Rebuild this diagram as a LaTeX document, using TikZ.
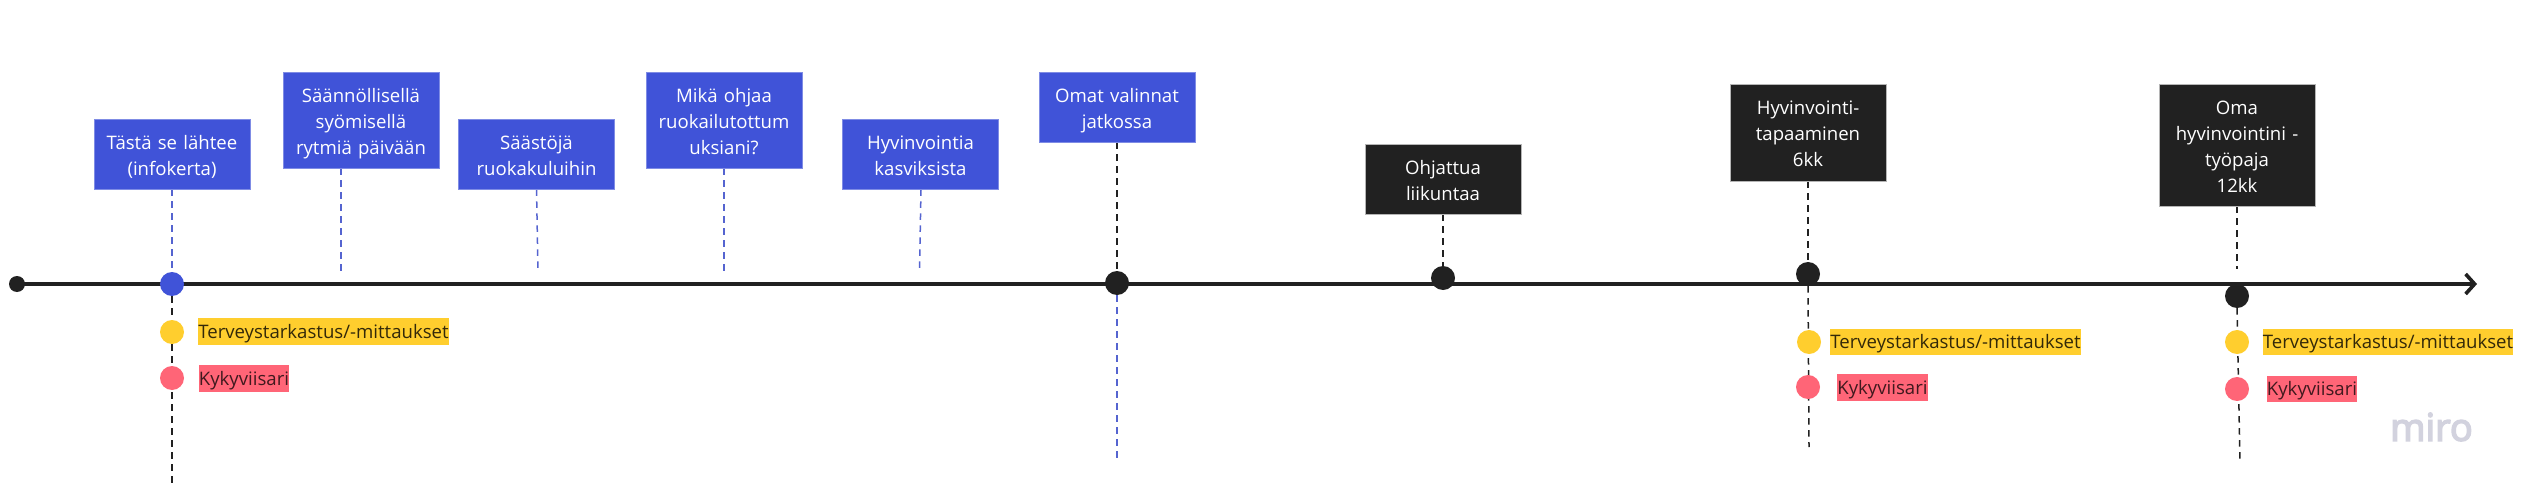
\documentclass[tikz,border=0pt]{standalone}
\usepackage{fontspec}
\setmainfont{Open Sans}
\newfontfamily\mirofont[FakeBold=4]{Open Sans}
\usetikzlibrary{arrows.meta,backgrounds}
\definecolor{mblue}{HTML}{4053D8}
\definecolor{mblueedge}{HTML}{7F8CE5}
\definecolor{mdash}{HTML}{5564D0}
\definecolor{mblack}{HTML}{212121}
\definecolor{mblackedge}{HTML}{B5B5B5}
\definecolor{myellow}{HTML}{FFCE2E}
\definecolor{mred}{HTML}{FF6577}
\definecolor{mirogrey}{HTML}{D2D2DE}
\tikzset{
  card/.style={rectangle,inner sep=0pt,text width=156pt,align=center,text=white,
    font=\fontsize{18.6}{26}\selectfont,
    execute at begin node={\leavevmode\rule{0pt}{21pt}},execute at end node={\rule[-4.4pt]{0pt}{0pt}}},
  bluecard/.style={card,fill=mblue,draw=mblueedge,line width=0.8pt},
  blackcard/.style={card,fill=mblack,draw=mblackedge,line width=0.8pt},
  dot/.style={circle,inner sep=0pt,minimum size=24pt},
  tag/.style={rectangle,inner sep=0pt,minimum height=26.5pt,
    font=\fontsize{18.6}{26}\selectfont,
    execute at begin node={\rule{0pt}{18.4pt}},execute at end node={\rule[-4.8pt]{0pt}{0pt}}},
  yellowtag/.style={tag,fill=myellow,text=black!80!myellow,minimum width=247.5pt},
  redtag/.style={tag,fill=mred,text=black!75!mred,minimum width=88.5pt},
  dashblue/.style={draw=mdash,line width=1.5pt,dash pattern=on 6.5pt off 5.5pt},
  dashblack/.style={draw=mblack,line width=1.5pt,dash pattern=on 6.5pt off 5.5pt},
  axisline/.style={draw=mblack,line width=3.6pt,-{Straight Barb[length=9pt,width=20pt,line width=3.6pt]}}
}
\begin{document}
\begin{tikzpicture}[x=1pt,y=-1pt]
\useasboundingbox (0,0) rectangle (2530,500);
% cards
\node[bluecard,minimum height=70pt] (c1) at (172,154) {Tästä se lähtee\\(infokerta)};
\node[bluecard,minimum height=96pt] (c2) at (361,120) {Säännöllisellä\\syömisellä\\rytmiä päivään};
\node[bluecard,minimum height=70pt] (c3) at (536.5,154) {Säästöjä\\ruokakuluihin};
\node[bluecard,minimum height=96pt] (c4) at (724,120) {Mikä ohjaa\\ruokailutottum\\uksiani?};
\node[bluecard,minimum height=70pt] (c5) at (920.5,154) {Hyvinvointia\\kasviksista};
\node[bluecard,minimum height=70pt] (c6) at (1117,107) {Omat valinnat\\jatkossa};
\node[blackcard,minimum height=70pt] (c7) at (1443,179) {Ohjattua\\liikuntaa};
\node[blackcard,minimum height=97pt] (c8) at (1808,132.5) {Hyvinvointi-\\tapaaminen\\6kk};
\node[blackcard,minimum height=122pt] (c9) at (2237,145) {Oma\\hyvinvointini -\\työpaja\\12kk};
% axis ends and dots
\node[circle,fill=mblack,inner sep=0pt,minimum size=16pt] (start) at (17,284) {};
\coordinate (axisend) at (2477,284);
\node[dot,fill=mblue] (d1) at (172,284) {};
\node[dot,fill=mblack] (d6) at (1117,283) {};
\node[dot,fill=mblack] (d7) at (1443,278) {};
\node[dot,fill=mblack] (d8) at (1808,274) {};
\node[dot,fill=mblack] (d9) at (2237,296) {};
\node[dot,fill=myellow] (y1) at (172,332) {};
\node[dot,fill=mred] (r1) at (172,378) {};
\node[dot,fill=myellow] (y8) at (1809,342) {};
\node[dot,fill=mred] (r8) at (1808,387) {};
\node[dot,fill=myellow] (y9) at (2237,342) {};
\node[dot,fill=mred] (r9) at (2237,389) {};
% tags
\node[yellowtag] (t1) at (323.5,331.5) {Terveystarkastus/-mittaukset};
\node[redtag] (k1) at (244,378.5) {Kykyviisari};
\node[yellowtag] (t8) at (1955.5,342) {Terveystarkastus/-mittaukset};
\node[redtag] (k8) at (1882.5,387.5) {Kykyviisari};
\node[yellowtag] (t9) at (2388,342) {Terveystarkastus/-mittaukset};
\node[redtag] (k9) at (2312,389) {Kykyviisari};
\node[text=mirogrey,inner sep=0pt,font=\fontsize{38}{38}\mirofont] (miro) at (2431.5,427) {miro};
% free ends of dashed lines
\coordinate (e2) at (341,273);
\coordinate (e2t) at (341,168);
\coordinate (e3) at (538,270);
\coordinate (e3t) at (536.5,189);
\coordinate (e4) at (724,273);
\coordinate (e5) at (919.5,270);
\coordinate (e5t) at (921,189);
\coordinate (b1) at (172,485);
\coordinate (b6) at (1117,458);
\coordinate (b8) at (1809,447);
\coordinate (b9) at (2240,461);
\coordinate (a9) at (2237,269);
\begin{pgfonlayer}{background}
\fill[white] (0,0) rectangle (2530,500);
\draw[dashblue] (c1.south) -- (d1.north);
\draw[dashblue] (c2.south -| e2) -- (e2);
\draw[dashblue] (c3.south -| e3t) -- (e3);
\draw[dashblue] (c4.south) -- (e4);
\draw[dashblue] (c5.south -| e5t) -- (e5);
\draw[dashblack] (d1.south) -- (b1);
\draw[dashblack] (c6.south) -- (d6.north);
\draw[dashblue] (d6.south) -- (b6);
\draw[dashblack] (c7.south) -- (d7.north);
\draw[dashblack] (c8.south) -- (d8.north);
\draw[dashblack] (d8.south) -- (b8);
\draw[dashblack] (c9.south) -- (a9);
\draw[dashblack] (d9.south) -- (b9);
\draw[axisline] (start.center) -- (axisend);
\end{pgfonlayer}
\end{tikzpicture}
\end{document}
